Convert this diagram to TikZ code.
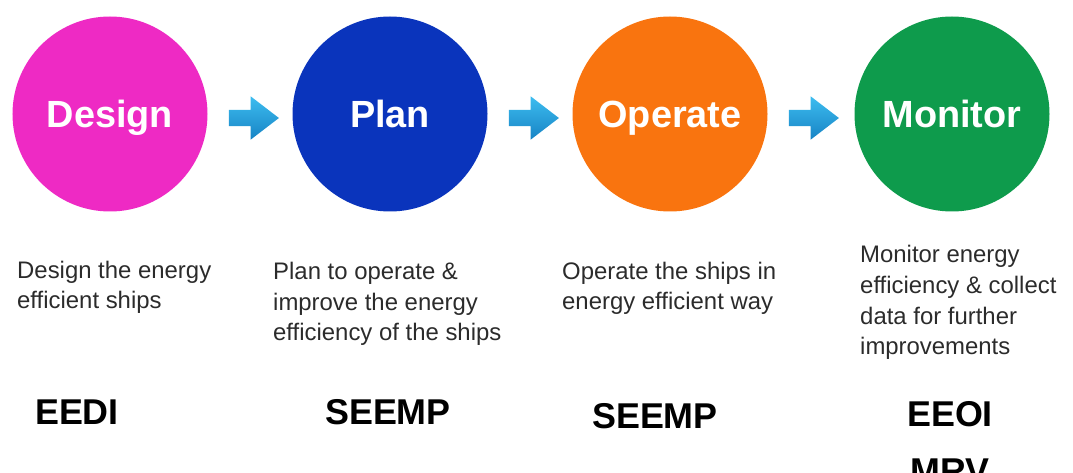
\documentclass[tikz,border=0pt]{standalone}
\usepackage{fontspec}
\setmainfont{Liberation Sans}
\usetikzlibrary{positioning, shapes.arrows}

\definecolor{designpink}{HTML}{EE2AC4}
\definecolor{planblue}{HTML}{0A34BC}
\definecolor{operateorange}{HTML}{F9740F}
\definecolor{monitorgreen}{HTML}{0E9B4C}
\definecolor{arrowtop}{HTML}{3DBDF0}
\definecolor{arrowbottom}{HTML}{1783C4}
\definecolor{notegray}{HTML}{2B2B2B}

\begin{document}
\begin{tikzpicture}[x=1bp, y=-1bp,
  stage/.style={circle, fill=#1, minimum size=195bp, inner sep=0pt, text=white, text depth=0pt, font=\fontsize{38}{40}\selectfont\bfseries},
  flow/.style={single arrow, single arrow tip angle=75, single arrow head extend=13.5bp, minimum height=50bp, inner sep=8bp, text height=0pt, text depth=0pt, top color=arrowtop, bottom color=arrowbottom},
  note/.style={anchor=base west, align=left, inner sep=0pt, text=notegray, font=\fontsize{24}{31}\selectfont},
  scheme/.style={anchor=base, inner sep=0pt, font=\fontsize{36}{56}\selectfont\bfseries}]
\useasboundingbox (0,0) rectangle (1073,473);

\node[stage=designpink] (design) at (110,114) {Design};
\node[stage=planblue] (plan) at (390,114) {Plan};
\node[stage=operateorange] (operate) at (670,114) {Operate};
\node[stage=monitorgreen] (monitor) at (952,114) {Monitor};

\node[flow, right=21bp of design, yshift=-4bp] (designtoplan) {};
\node[flow, right=21bp of plan, yshift=-4bp] (plantooperate) {};
\node[flow, right=21bp of operate, yshift=-4bp] (operatetomonitor) {};

% base is the last line of each note
\node[note] (designnote) at (17,309) {Design the energy\\efficient ships};
\node[note] (plannote) at (273,341) {Plan to operate \&\\improve the energy\\efficiency of the ships};
\node[note] (operatenote) at (562,310) {Operate the ships in\\energy efficient way};
\node[note] (monitornote) at (860,355) {Monitor energy\\efficiency \& collect\\data for further\\improvements};

\node[scheme] (eedi) at (77,425) {EEDI};
\node[scheme] (seempplan) at (388,425) {SEEMP};
\node[scheme] (seempoperate) at (655,429) {SEEMP};
\node[scheme] (eeoi) at (950,427) {EEOI};
\node[scheme] (mrv) at (950,483) {MRV};
\end{tikzpicture}
\end{document}
